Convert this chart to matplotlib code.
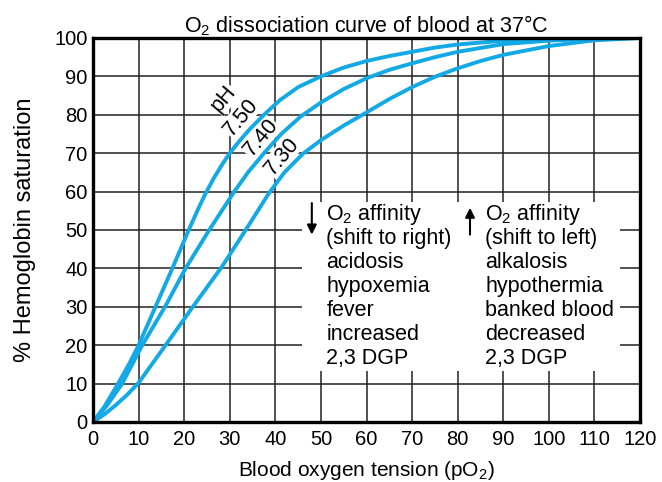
import matplotlib
matplotlib.use("Agg")
import matplotlib.pyplot as plt
from matplotlib.patches import Rectangle

plt.rcParams['font.family'] = ['Liberation Sans', 'DejaVu Sans']
plt.rcParams['mathtext.fontset'] = 'custom'
plt.rcParams['mathtext.rm'] = 'Liberation Sans'
plt.rcParams['mathtext.it'] = 'Liberation Sans'

# ---- data ----
ph750_x = [0, 2.5, 5.5, 8, 10, 13.7, 17.4, 21, 23, 24.6, 26.5, 28.3, 30, 32, 34.5, 37.5, 41, 45, 50,
           55, 60, 65, 70, 75, 80, 90, 100, 110, 120]
ph750_y = [0, 4, 10, 15.3, 20, 30, 40, 50, 55.3, 59.3, 63.5, 67, 70, 73, 76.4, 80, 83.8, 87.2, 90,
           92.3, 94, 95.3, 96.4, 97.5, 98.3, 99.3, 99.7, 99.9, 100]

ph740_x = [0, 3, 6.4, 10.8, 15.8, 20.3, 25.5, 31, 34, 37.5, 41.3, 45.5, 50, 55, 60, 65, 70, 75, 80,
           90, 100, 110, 120]
ph740_y = [0, 4.2, 10, 20, 30, 40, 50, 60, 65, 70, 75, 79.5, 83.2, 86.7, 89.5, 91.7, 93.4, 95, 96.4,
           98.4, 99.3, 99.8, 100]

ph730_x = [0, 2.5, 5, 7.5, 10, 12.9, 15.8, 21.6, 28.2, 33.5, 38.6, 42, 46, 50, 55, 60, 65, 70, 75, 80,
           85, 90, 100, 110, 120]
ph730_y = [0, 2, 4.4, 7.1, 10.2, 15, 19.8, 29.5, 40.3, 50, 59.6, 65, 69.8, 73.4, 77.2, 80.6, 84.1, 87.2,
           89.9, 92.1, 94, 95.6, 97.9, 99.4, 100]

curve_labels = ["pH", "7.50", "7.40", "7.30"]
x_ticks = list(range(0, 121, 10))
y_ticks = list(range(0, 101, 10))

left_lines = ["O$_2$ affinity", "(shift to right)", "acidosis", "hypoxemia",
              "fever", "increased", "2,3 DGP"]
right_lines = ["O$_2$ affinity", "(shift to left)", "alkalosis", "hypothermia",
               "banked blood", "decreased", "2,3 DGP"]

title = "O$_2$ dissociation curve of blood at 37°C"
xlabel = "Blood oxygen tension (pO$_2$)"
ylabel = "% Hemoglobin saturation"

# ---- figure ----
fig = plt.figure(figsize=(6.62, 4.82), dpi=100)
ax = fig.add_axes([0.1405, 0.1245, 0.8263, 0.7967])
ax.set_xlim(0, 120)
ax.set_ylim(0, 100)
ax.set_xticks(x_ticks)
ax.set_yticks(y_ticks)
ax.tick_params(length=0, labelsize=14.5)
ax.tick_params(axis='x', pad=6)
ax.tick_params(axis='y', pad=4)
ax.grid(True, color='#222222', linewidth=1.1, zorder=1)
ax.set_axisbelow(True)
for s in ax.spines.values():
    s.set_linewidth(2.4)
    s.set_zorder(6)

col = '#12A9E6'
for xs, ys in [(ph750_x, ph750_y), (ph740_x, ph740_y), (ph730_x, ph730_y)]:
    ax.plot(xs, ys, color=col, linewidth=2.8, zorder=5,
            solid_capstyle='round', solid_joinstyle='round')

# white panel behind the explanatory text
ax.add_patch(Rectangle((45.8, 13.3), 115.6 - 45.8, 57.4 - 13.3,
                       facecolor='white', edgecolor='none', zorder=2))

lab_pos = [(28.7, 84.2), (32.4, 79.4), (36.8, 74.0), (41.4, 69.2)]
for txt, (lx, ly) in zip(curve_labels, lab_pos):
    ax.text(lx, ly, txt, rotation=50, ha='center', va='center', fontsize=15.5,
            zorder=3, bbox=dict(facecolor='white', edgecolor='none', pad=0.3))

line_y0 = 54.0
line_dy = 6.24
for i, t in enumerate(left_lines):
    ax.text(51.2, line_y0 - i * line_dy, t, ha='left', va='center', fontsize=15.5, zorder=4)
for i, t in enumerate(right_lines):
    ax.text(86.0, line_y0 - i * line_dy, t, ha='left', va='center', fontsize=15.5, zorder=4)

ax.annotate('', xy=(48.0, 48.8), xytext=(48.0, 57.0),
            arrowprops=dict(arrowstyle='-|>', color='black', lw=1.5,
                            mutation_scale=14, shrinkA=0, shrinkB=0), zorder=4)
ax.annotate('', xy=(82.7, 55.8), xytext=(82.7, 48.8),
            arrowprops=dict(arrowstyle='-|>', color='black', lw=1.5,
                            mutation_scale=14, shrinkA=0, shrinkB=0), zorder=4)

ax.set_title(title, fontsize=15.5, pad=3)
ax.set_xlabel(xlabel, fontsize=15, labelpad=7)
ax.set_ylabel(ylabel, fontsize=17, labelpad=13)

fig.savefig("out.png", dpi=100)
